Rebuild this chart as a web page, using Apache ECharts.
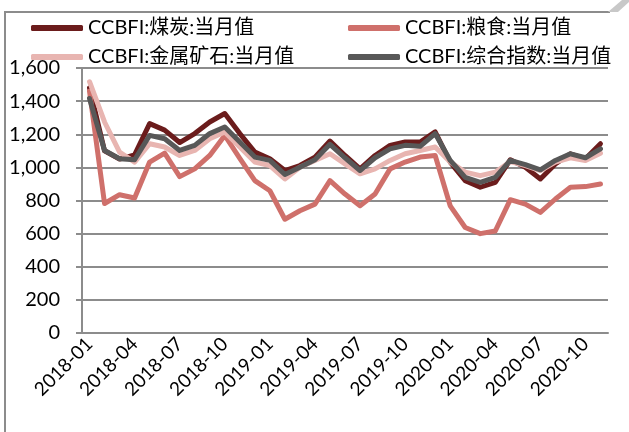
<!DOCTYPE html>
<html>
<head>
<meta charset="utf-8">
<script src="https://cdn.jsdelivr.net/npm/echarts@6/dist/echarts.min.js"></script>
<style>
  html, body { margin: 0; padding: 0; background: #fff; }
  #CajaGrafico { width: 629px; height: 432px; }
</style>
</head>
<body>
<div id="CajaGrafico"></div>
<script>
var months = [
  '2018-01','2018-02','2018-03','2018-04','2018-05','2018-06','2018-07','2018-08','2018-09','2018-10','2018-11','2018-12',
  '2019-01','2019-02','2019-03','2019-04','2019-05','2019-06','2019-07','2019-08','2019-09','2019-10','2019-11','2019-12',
  '2020-01','2020-02','2020-03','2020-04','2020-05','2020-06','2020-07','2020-08','2020-09','2020-10','2020-11'
];
var names = ['CCBFI:煤炭:当月值', 'CCBFI:粮食:当月值', 'CCBFI:金属矿石:当月值', 'CCBFI:综合指数:当月值'];
var coal = [1480, 1100, 1050, 1075, 1264, 1225, 1150, 1204, 1274, 1325, 1204, 1092, 1052, 981,
  1011, 1062, 1159, 1072, 991, 1072, 1133, 1153, 1153, 1214, 1032, 920, 880, 910,
  1046, 1001, 930, 1021, 1082, 1052, 1143];
var grain = [1460, 782, 835, 815, 1032, 1086, 944, 991, 1072, 1193, 1055, 920, 859, 687,
  738, 778, 920, 839, 768, 839, 991, 1032, 1062, 1072, 768, 637, 600, 616,
  805, 778, 728, 809, 880, 884, 900];
var metal = [1517, 1274, 1092, 1032, 1143, 1123, 1072, 1102, 1173, 1214, 1123, 1032, 1011, 930,
  1001, 1042, 1082, 1021, 961, 991, 1042, 1082, 1102, 1123, 1032, 971, 950, 971,
  1035, 1011, 981, 1032, 1058, 1042, 1086];
var composite = [1416, 1102, 1052, 1046, 1193, 1173, 1102, 1133, 1204, 1244, 1153, 1062, 1042, 957,
  1001, 1046, 1139, 1058, 981, 1058, 1112, 1133, 1127, 1204, 1042, 940, 910, 940,
  1042, 1017, 985, 1042, 1082, 1058, 1112];
var colors = ['#6b1c1c', '#cf706b', '#e8b5b1', '#585858'];

var ChartDOM = document.getElementById('CajaGrafico');
var myChart = echarts.init(ChartDOM);
var fontFam = 'Lato, "Noto Sans CJK SC", sans-serif';

function makeSeries(name, data, color) {
  return {
    name: name,
    type: 'line',
    data: data,
    symbol: 'none',
    lineStyle: { color: color, width: 5, cap: 'round', join: 'round' },
    itemStyle: { color: color }
  };
}

var legendBase = {
  orient: 'vertical',
  top: 13,
  itemGap: 9,
  itemWidth: 52,
  itemHeight: 6,
  icon: 'roundRect',
  textStyle: { fontSize: 20, color: '#000', fontFamily: fontFam }
};

option = {
  animation: false,
  color: colors,
  graphic: [
    {
      type: 'polyline',
      shape: { points: [[5, 432], [5, 12], [610, 12]] },
      style: { stroke: '#8c8c8c', lineWidth: 2, fill: null }
    },
    {
      type: 'polygon',
      shape: { points: [[608, 12], [618, 12], [629, 2], [629, 0], [622, 0]] },
      style: { fill: '#c8c8c8' }
    }
  ],
  legend: [
    Object.assign({ left: 26, data: [names[0], names[2]] }, legendBase),
    Object.assign({ left: 343, data: [names[1], names[3]] }, legendBase)
  ],
  grid: { left: 82, right: 21, top: 68, bottom: 99, containLabel: false },
  xAxis: {
    type: 'category',
    data: months,
    boundaryGap: true,
    axisLine: { lineStyle: { color: '#8c8c8c', width: 2 } },
    axisTick: { interval: 2, length: 6, lineStyle: { color: '#8c8c8c', width: 2 } },
    axisLabel: { interval: 2, rotate: 45, fontSize: 19, color: '#000', fontFamily: fontFam, margin: 8 },
    splitLine: { show: false }
  },
  yAxis: {
    type: 'value',
    min: 0,
    max: 1600,
    interval: 200,
    axisLine: { show: true, lineStyle: { color: '#8c8c8c', width: 2 } },
    axisTick: { show: true, length: 6, lineStyle: { color: '#8c8c8c', width: 2 } },
    axisLabel: {
      fontSize: 20, color: '#000', fontFamily: fontFam, margin: 22,
      formatter: function (v) { return v.toLocaleString('en-US'); }
    },
    splitLine: { lineStyle: { color: '#8c8c8c', width: 2 } }
  },
  series: [
    makeSeries(names[0], coal, colors[0]),
    makeSeries(names[1], grain, colors[1]),
    makeSeries(names[2], metal, colors[2]),
    makeSeries(names[3], composite, colors[3])
  ]
};
myChart.setOption(option);
window.addEventListener('resize', function () {
  myChart.resize();
});
</script>
</body>
</html>
